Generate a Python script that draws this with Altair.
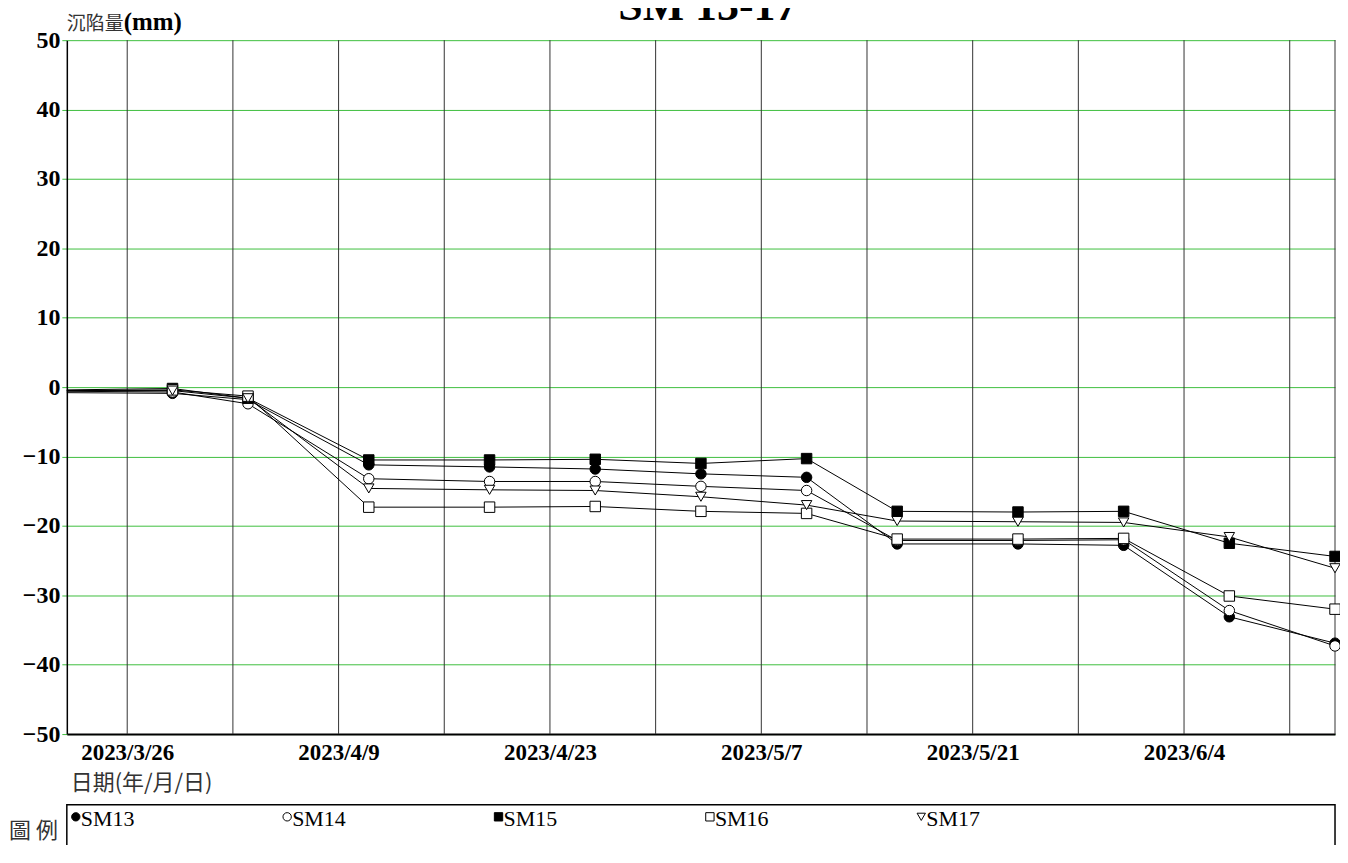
import altair as alt
import pandas as pd

# ---- data ----
dates = ["2023-03-22", "2023-03-29", "2023-04-03", "2023-04-11", "2023-04-19",
         "2023-04-26", "2023-05-03", "2023-05-10", "2023-05-16", "2023-05-24",
         "2023-05-31", "2023-06-07", "2023-06-14"]
series_names = ["SM13", "SM14", "SM15", "SM16", "SM17"]
sm13 = [-0.8, -0.9, -1.8, -11.2, -11.5, -11.8, -12.5, -13.0, -22.6, -22.6, -22.8, -33.1, -36.9]
sm14 = [-0.6, -0.7, -2.4, -13.2, -13.6, -13.6, -14.3, -14.9, -22.1, -22.1, -22.0, -32.2, -37.3]
sm15 = [-0.4, -0.2, -1.6, -10.5, -10.5, -10.4, -11.0, -10.3, -17.9, -18.0, -17.9, -22.5, -24.4]
sm16 = [-0.5, -0.4, -1.3, -17.3, -17.3, -17.2, -17.9, -18.2, -21.9, -21.9, -21.8, -30.1, -32.0]
sm17 = [-0.5, -0.5, -1.6, -14.6, -14.8, -14.9, -15.8, -17.0, -19.3, -19.4, -19.5, -21.6, -26.1]
grid_dates = ["2023-03-26", "2023-04-02", "2023-04-09", "2023-04-16", "2023-04-23",
              "2023-04-30", "2023-05-07", "2023-05-14", "2023-05-21", "2023-05-28",
              "2023-06-04", "2023-06-11"]
label_dates = ["2023-03-26", "2023-04-09", "2023-04-23", "2023-05-07", "2023-05-21", "2023-06-04"]
domain_dates = ["2023-03-22", "2023-06-14"]
y_ticks = [-50, -40, -30, -20, -10, 0, 10, 20, 30, 40, 50]

shapes = ["circle", "circle", "square", "square", "triangle-down"]
fills = ["black", "white", "black", "white", "white"]

W, H = 1272, 696
GREEN = "#3fbf3f"
SERIF = "Liberation Serif"
CJK = "Noto Sans CJK TC"


def dt(s):
    y, m, d = map(int, s.split("-"))
    return alt.DateTime(year=y, month=m, date=d, utc=True)


rows = []
for name, vals in zip(series_names, [sm13, sm14, sm15, sm16, sm17]):
    for i, (d, v) in enumerate(zip(dates, vals)):
        rows.append({"date": d, "value": v, "series": name, "marker": i > 0})
df = pd.DataFrame(rows)
grid_df = pd.DataFrame({"gd": grid_dates})
one = pd.DataFrame({"k": [0]})

xscale = alt.Scale(type="utc", domain=[dt(s) for s in domain_dates])
yscale = alt.Scale(domain=[-50, 50], nice=False, zero=False)

x_enc = alt.X(
    "date:T", scale=xscale,
    axis=alt.Axis(values=[dt(s) for s in label_dates],
                  labelExpr="utcFormat(datum.value, '%Y/%-m/%-d')",
                  title=None, grid=False, ticks=False,
                  labelFont=SERIF, labelFontWeight="bold", labelFontSize=23,
                  labelColor="black", labelPadding=7, labelFlush=False,
                  labelOverlap=False, domainColor="black", domainWidth=2))
y_enc = alt.Y(
    "value:Q", scale=yscale,
    axis=alt.Axis(values=y_ticks, title=None, grid=True, gridColor=GREEN,
                  gridWidth=1, tickColor=GREEN, tickSize=5, tickWidth=1,
                  labelFont=SERIF, labelFontWeight="bold", labelFontSize=24,
                  labelColor="black", labelPadding=2, labelFlush=False,
                  labelOverlap=False, domainColor="black", domainWidth=1.5))

vgrid = alt.Chart(grid_df).mark_rule(color="#333333", strokeWidth=1).encode(
    x=alt.X("gd:T", scale=xscale), y=alt.value(0), y2=alt.value(H))
right_border = alt.Chart(one).mark_rule(color="#333333", strokeWidth=1).encode(
    x=alt.value(W), y=alt.value(0), y2=alt.value(H))

lines = alt.Chart(df).mark_line(color="black", strokeWidth=1).encode(
    x=x_enc, y=y_enc, detail="series:N")

points = alt.Chart(df).transform_filter("datum.marker").mark_point(
    filled=True, stroke="black", strokeWidth=1, size=110, opacity=1).encode(
    x=alt.X("date:T", scale=xscale),
    y=alt.Y("value:Q", scale=yscale),
    shape=alt.Shape("series:N", scale=alt.Scale(domain=series_names, range=shapes), legend=None),
    fill=alt.Fill("series:N", scale=alt.Scale(domain=series_names, range=fills), legend=None),
    order=alt.Order("series:N"))

layers = [vgrid, right_border, lines, points]

# title (cropped at the top like the reference)
layers.append(alt.Chart(one).mark_text(
    text="SM 13-17", font=SERIF, fontWeight="bold", fontSize=44, align="center",
    baseline="alphabetic", color="black").encode(x=alt.value(643), y=alt.value(-20)))

# y-axis title
layers.append(alt.Chart(one).mark_text(
    text="沉陷量", font=CJK, fontSize=19, align="left", baseline="alphabetic",
    color="#333333").encode(x=alt.value(0), y=alt.value(-10)))
layers.append(alt.Chart(one).mark_text(
    text="(mm)", font=SERIF, fontWeight="bold", fontSize=25, align="left",
    baseline="alphabetic", color="black").encode(x=alt.value(57), y=alt.value(-10)))

# x-axis title
layers.append(alt.Chart(one).mark_text(
    text="日期(年/月/日)", font=CJK, fontSize=22, align="left", baseline="middle",
    color="#333333").encode(x=alt.value(4), y=alt.value(745)))

# legend box
layers.append(alt.Chart(one).mark_rect(
    fill="white", stroke="black", strokeWidth=1.5).encode(
    x=alt.value(0), x2=alt.value(W), y=alt.value(767), y2=alt.value(900)))
layers.append(alt.Chart(one).mark_text(
    text="圖 例", font=CJK, fontSize=22, align="right", baseline="middle",
    color="#333333").encode(x=alt.value(-9), y=alt.value(793)))

for i, name in enumerate(series_names):
    lx = 9 + 212 * i
    layers.append(alt.Chart(one).mark_point(
        shape=shapes[i], filled=True, fill=fills[i], stroke="black", strokeWidth=1,
        size=70, opacity=1).encode(x=alt.value(lx), y=alt.value(779)))
    layers.append(alt.Chart(one).mark_text(
        text=name, font=SERIF, fontSize=22, align="left", baseline="alphabetic",
        color="black").encode(x=alt.value(lx + 5), y=alt.value(788)))

chart = alt.layer(*layers).properties(
    width=W, height=H,
    autosize=alt.AutoSizeParams(type="none"),
    padding={"left": 59, "top": 31, "right": 5, "bottom": 110},
    background="white",
).configure_view(stroke=None)

chart.save("out.html", embed_options={"renderer": "svg", "actions": False})
